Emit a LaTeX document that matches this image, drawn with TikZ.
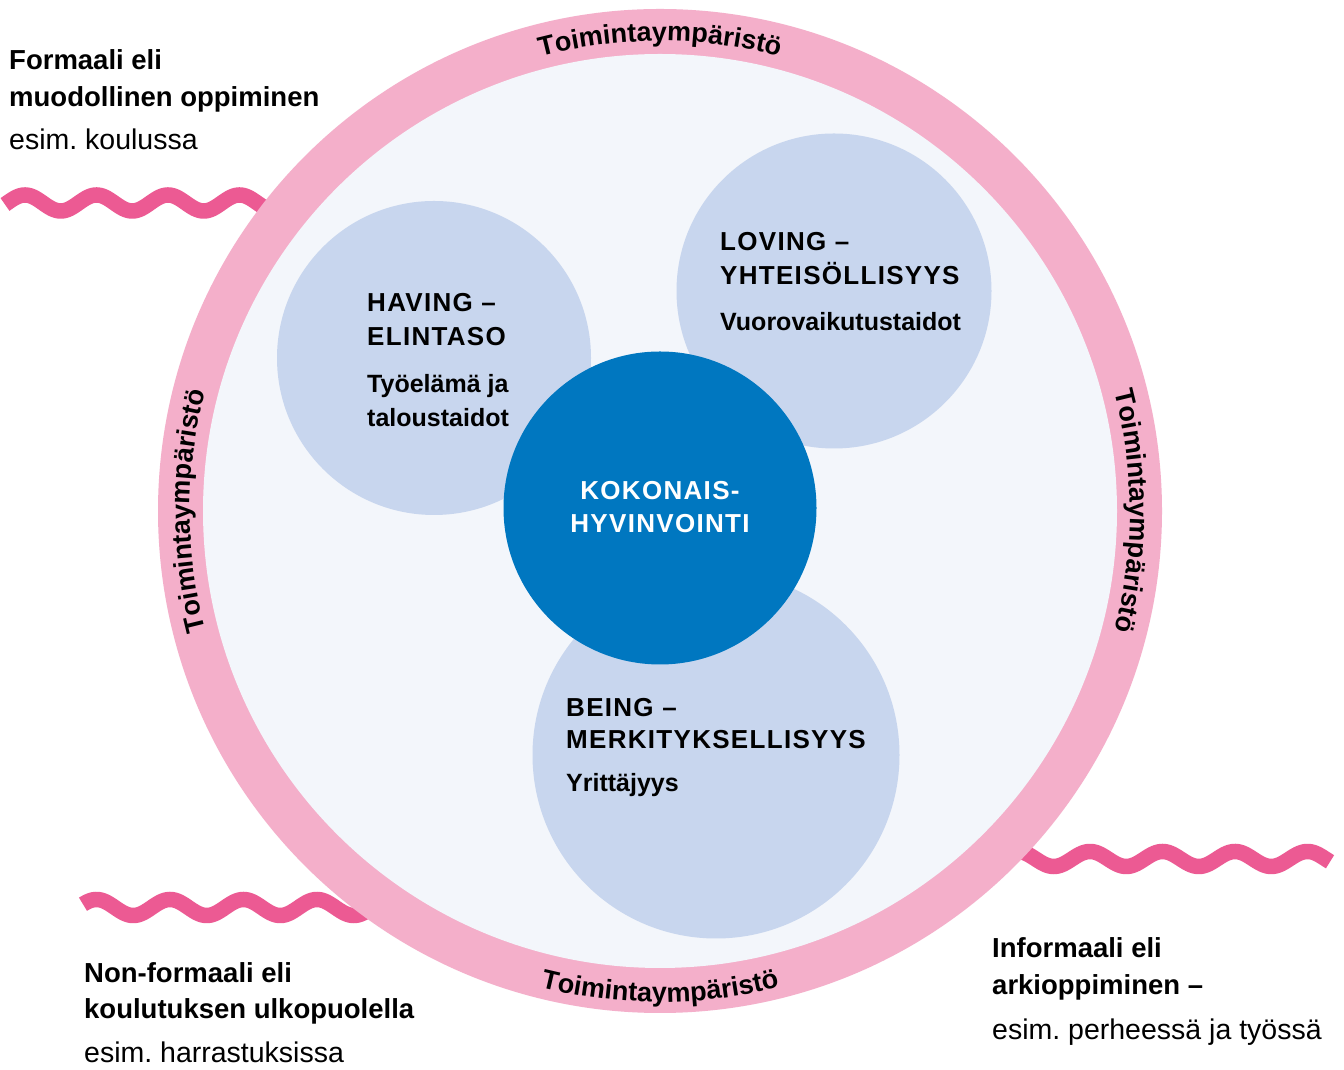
\documentclass[tikz,border=0pt]{standalone}
\usepackage{fontspec}
\setmainfont{Liberation Sans}
\usetikzlibrary{decorations.text}
\frenchspacing
\definecolor{ringpink}{HTML}{F4AFCA}
\definecolor{wavepink}{HTML}{EC5A93}
\definecolor{innerbg}{HTML}{F3F6FB}
\definecolor{lightblue}{HTML}{C8D6EE}
\definecolor{darkblue}{HTML}{0077C0}
\newcommand\ringfont{\fontsize{27}{30}\selectfont\bfseries}
\newcommand\titlefont{\fontsize{26}{30}\selectfont\bfseries\addfontfeature{LetterSpace=5}}
\newcommand\subfont{\fontsize{25}{30}\selectfont\bfseries}
\newcommand\outbold{\fontsize{27.5}{30}\selectfont\bfseries}
\newcommand\outreg{\fontsize{28.5}{30}\selectfont}
\begin{document}
\begin{tikzpicture}[x=1pt,y=1pt,
  wave/.style={draw=wavepink, line width=15.5pt},
  disc/.style={circle, inner sep=0pt, draw=none},
  lbl/.style={anchor=base west, inner sep=0pt, text=black},
  ringtext/.style={decorate, decoration={text along path, text align=center,
      text format delimiters={|}{|}, text={|\ringfont|Toimintaympäristö}}}]
\useasboundingbox (0,0) rectangle (1344,1070);
\fill[white] (0,0) rectangle (1344,1070);
% waves
\draw[wave] plot[domain=5:300, samples=220, smooth] (\x, {867 + 8*cos(((\x-25)/71.5)*360)});
\draw[wave] plot[domain=83:400, samples=220, smooth] (\x, {162.5 + 8*cos(((\x-170)/73.5)*360)});
\draw[wave] plot[domain=990:1330, samples=220, smooth] (\x, {211 + 7.5*cos(((\x-1090)/72.5)*360)});
% ring
\node[disc, fill=ringpink, minimum size=1004pt] (ring) at (660,559) {};
\node[disc, fill=innerbg, minimum size=914pt] (inner) at (660,559) {};
\path[ringtext] (ring.center) ++(130:470) arc[start angle=130, end angle=50, radius=470];
\path[ringtext] (ring.center) ++(235:491) arc[start angle=235, end angle=305, radius=491];
\path[ringtext] (ring.center) ++(220:470) arc[start angle=220, end angle=140, radius=470];
\path[ringtext] (ring.center) ++(40:470) arc[start angle=40, end angle=-40, radius=470];
% circles
\node[disc, fill=lightblue, minimum size=314pt] (having) at (434,712) {};
\node[disc, fill=lightblue, minimum size=315pt] (loving) at (834,779) {};
\node[disc, fill=lightblue, minimum size=367pt] (being) at (716,315) {};
\node[disc, fill=darkblue, minimum size=313pt] (center) at (660,562) {};
% circle texts
\node[lbl, font=\titlefont] (hav1) at (367,758) {HAVING –};
\node[lbl, font=\titlefont] (hav2) at (367,724) {ELINTASO};
\node[lbl, font=\subfont] (hav3) at (367,677) {Työelämä ja};
\node[lbl, font=\subfont] (hav4) at (367,643) {taloustaidot};
\node[lbl, font=\titlefont] (lov1) at (720,819.5) {LOVING –};
\node[lbl, font=\titlefont] (lov2) at (720,785.5) {YHTEISÖLLISYYS};
\node[lbl, font=\subfont] (lov3) at (720,739) {Vuorovaikutustaidot};
\node[lbl, font=\titlefont] (bei1) at (566,353) {BEING –};
\node[lbl, font=\titlefont] (bei2) at (566,321) {MERKITYKSELLISYYS};
\node[lbl, font=\subfont] (bei3) at (566,278) {Yrittäjyys};
\node[anchor=base, inner sep=0pt, text=white, font=\titlefont] (kok1) at (660,570.5) {KOKONAIS-};
\node[anchor=base, inner sep=0pt, text=white, font=\titlefont] (kok2) at (660,537.5) {HYVINVOINTI};
% outer texts
\node[lbl, font=\outbold] (tl1) at (9,1000) {Formaali eli};
\node[lbl, font=\outbold] (tl2) at (9,963) {muodollinen oppiminen};
\node[lbl, font=\outreg] (tl3) at (9,920) {esim. koulussa};
\node[lbl, font=\outbold] (bl1) at (84,87) {Non-formaali eli};
\node[lbl, font=\outbold] (bl2) at (84,51) {koulutuksen ulkopuolella};
\node[lbl, font=\outreg] (bl3) at (84,7) {esim. harrastuksissa};
\node[lbl, font=\outbold] (br1) at (992,112) {Informaali eli};
\node[lbl, font=\outbold] (br2) at (992,75) {arkioppiminen –};
\node[lbl, font=\outreg] (br3) at (992,30) {esim. perheessä ja työssä};
\end{tikzpicture}
\end{document}
